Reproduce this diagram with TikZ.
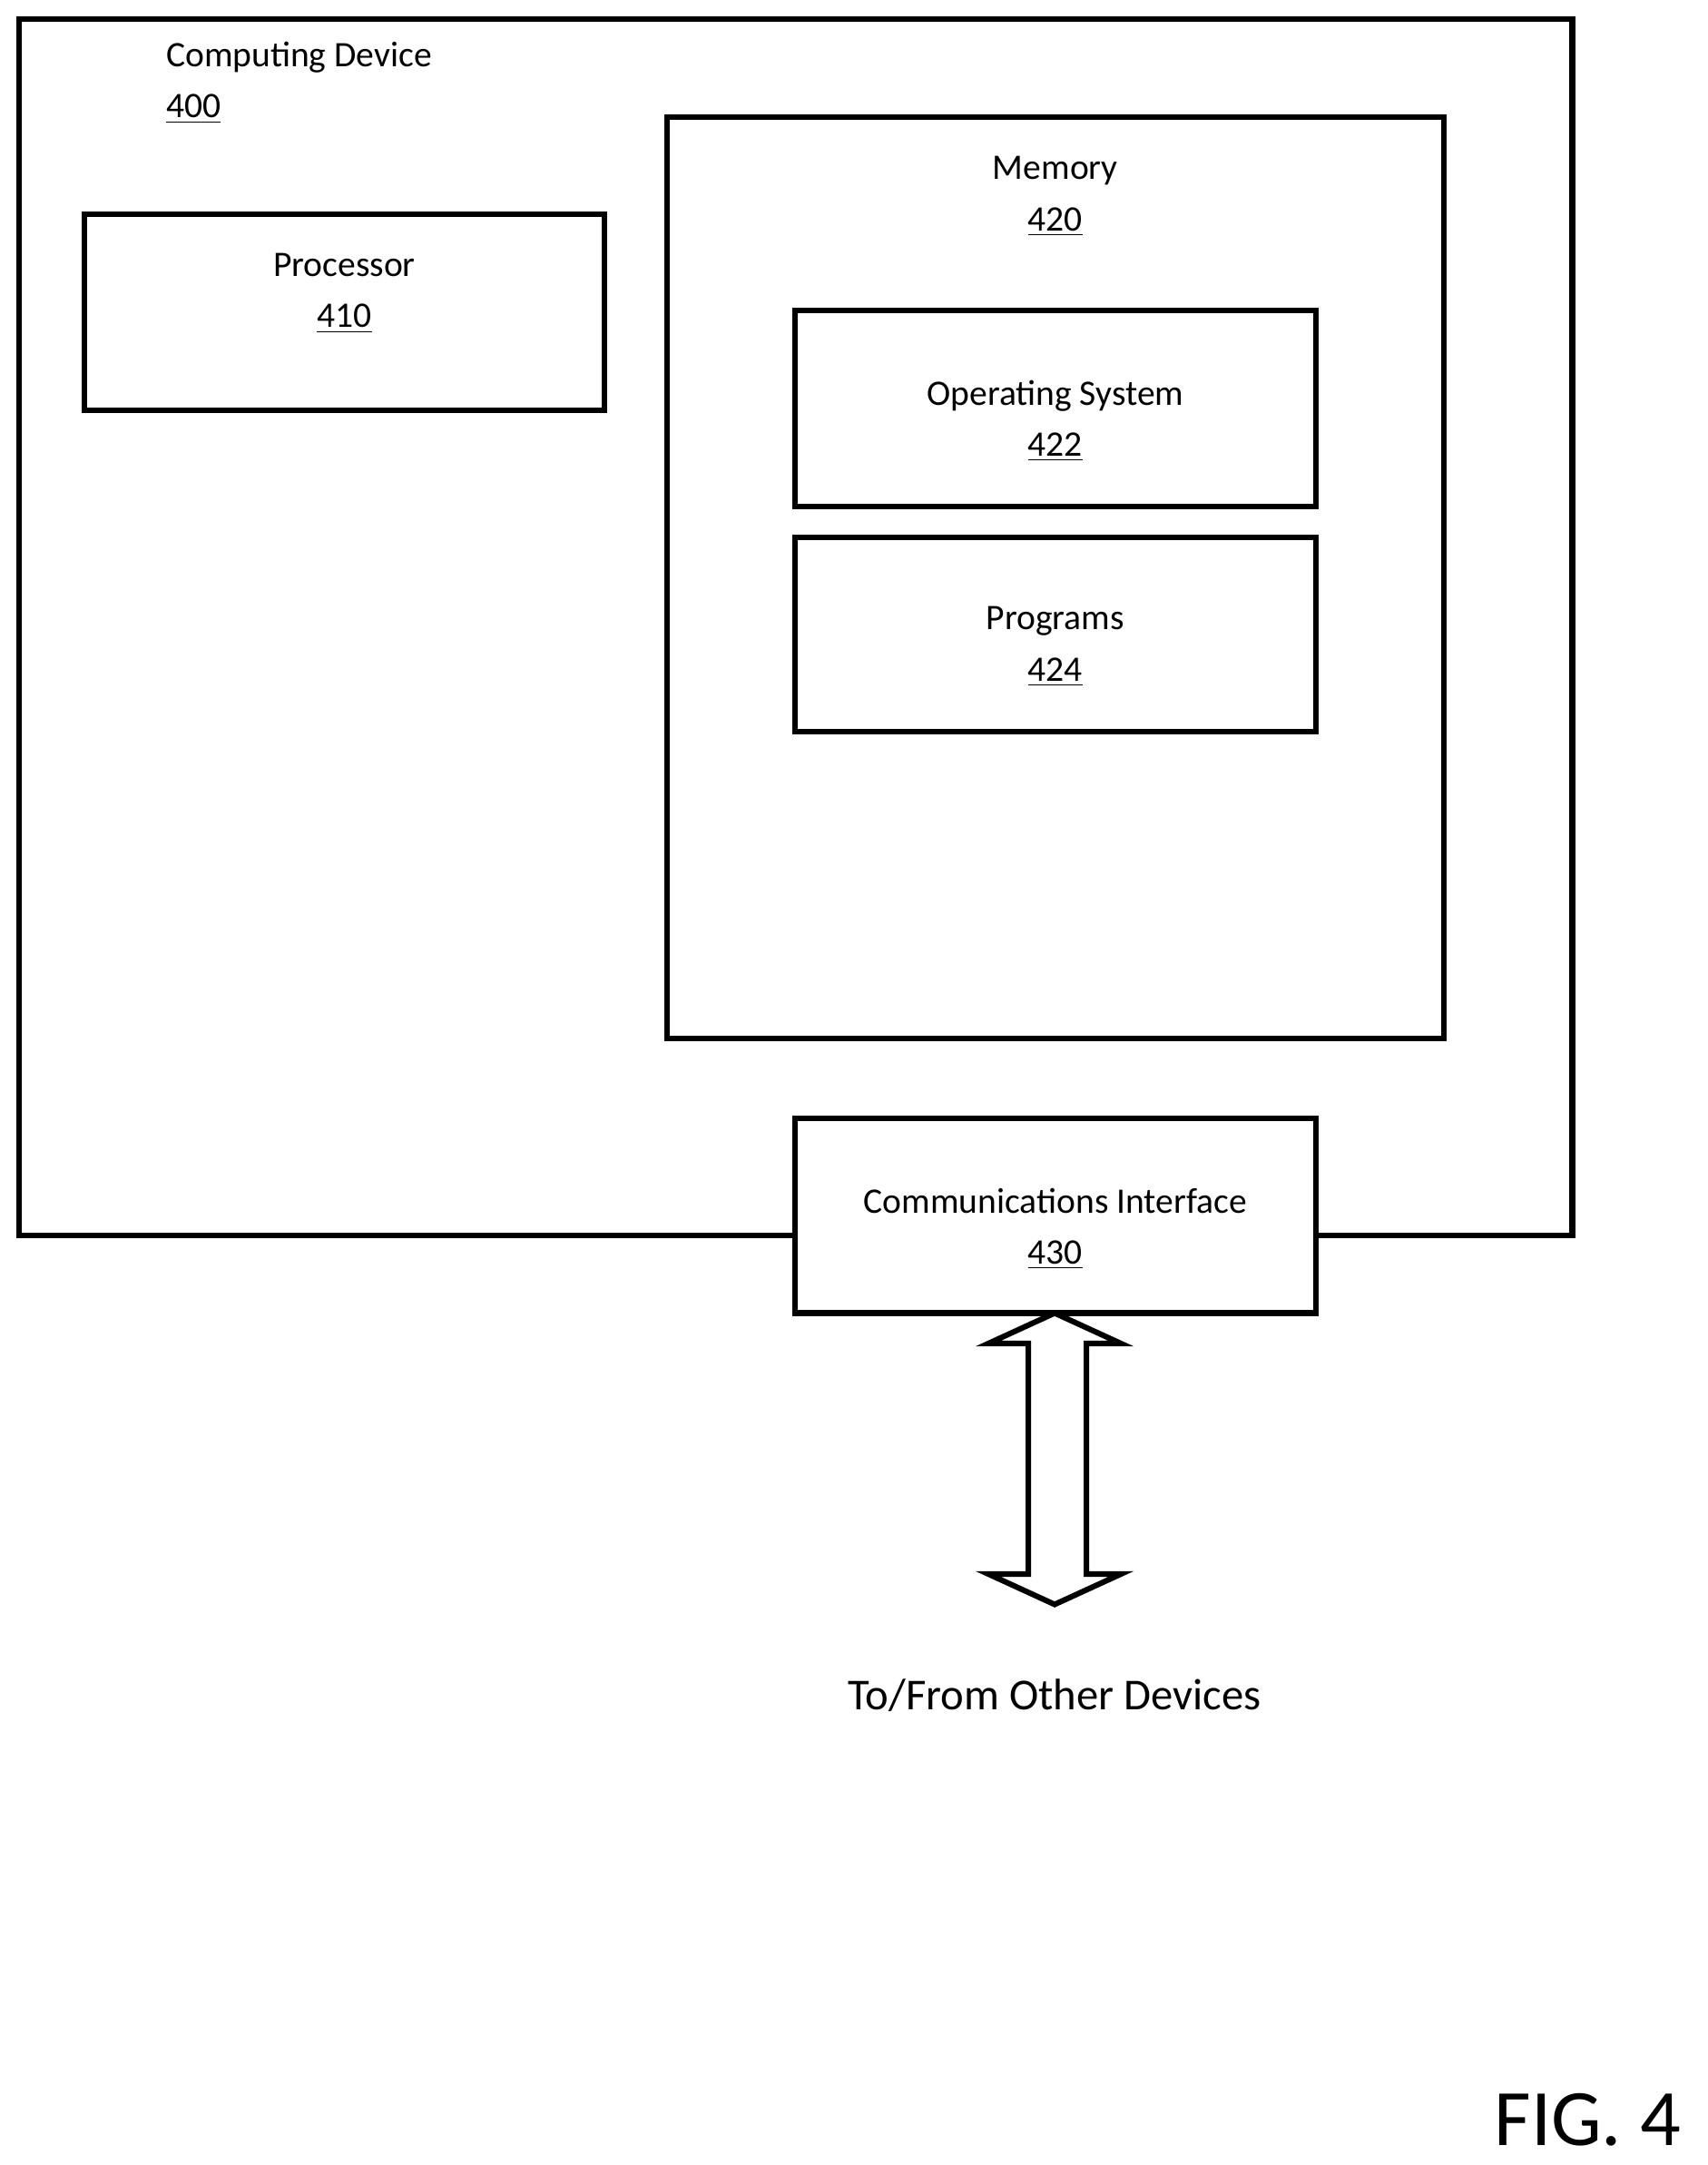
\documentclass[tikz,border=0pt]{standalone}
\usepackage{fontspec}
\setmainfont{Carlito}
\usetikzlibrary{positioning}

\begin{document}
\begin{tikzpicture}[
    x=0.5pt, y=-0.5pt,
    box/.style={rectangle, draw, line width=2pt, inner sep=0pt},
    lbl/.style={align=center, font=\fontsize{13}{18.5}\selectfont, inner sep=0pt, anchor=north},
]
\useasboundingbox (0,0) rectangle (1237,1568);

% outer device
\draw[line width=2pt] (14,14) rectangle (1139,895);
\node[lbl, anchor=north west, align=left] (dev_label) at (120,30) {Computing Device\\\underline{400}};

\node[box, minimum width=188.5pt, minimum height=71pt] (proc) at (249.5,226) {};
\node[lbl, below=15pt of proc.north] (proc_label) {Processor\\\underline{410}};

\node[box, minimum width=281.5pt, minimum height=333.5pt] (mem) at (764.5,418.5) {};
\node[lbl, below=15pt of mem.north] (mem_label) {Memory\\\underline{420}};

\node[box, fill=white, minimum width=188.5pt, minimum height=71pt] (os) at (764.5,296) {};
\node[lbl, below=26pt of os.north] (os_label) {Operating System\\\underline{422}};

\node[box, minimum width=188.5pt, minimum height=70.5pt] (prog) at (764.5,459.5) {};
\node[lbl, below=26pt of prog.north] (prog_label) {Programs\\\underline{424}};

\node[box, fill=white, minimum width=188.5pt, minimum height=70.5pt] (comm) at (764.5,880.5) {};
\node[lbl, below=26pt of comm.north] (comm_label) {Communications Interface\\\underline{430}};

% double arrow
\coordinate (arr_top) at (764,951);
\coordinate (arr_bot) at (764,1162);
\draw[line width=2pt, fill=white] (arr_top) -- (812,973) -- (787,973) -- (787,1140) -- (812,1140)
  -- (arr_bot) -- (716,1140) -- (745,1140) -- (745,973) -- (716,973) -- cycle;

\node[font=\fontsize{16}{19}\selectfont, inner sep=0pt] (other) at (764,1228) {To/From Other Devices};
\node[font=\fontsize{29}{34}\selectfont, inner sep=0pt] (fig) at (1150,1535) {FIG. 4};
\end{tikzpicture}
\end{document}
